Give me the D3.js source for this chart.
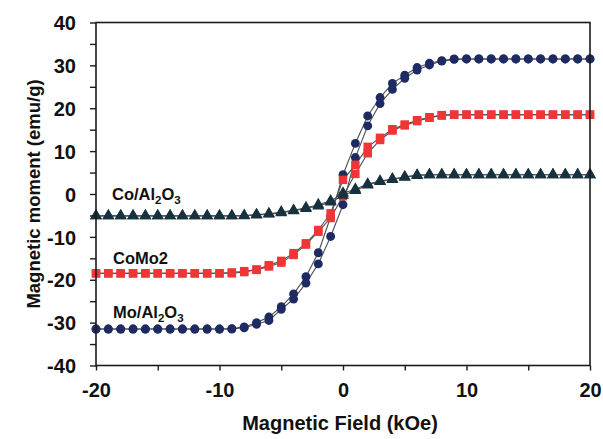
<!DOCTYPE html>
<html>
<head>
<meta charset="utf-8">
<script src="https://cdn.jsdelivr.net/npm/d3@7"></script>
<style>
  html, body { margin: 0; padding: 0; background: #fff; }
  svg { display: block; font-family: "Liberation Sans", Arial, sans-serif; }
</style>
</head>
<body>
<svg id="chart" width="603" height="439"></svg>
<script>
// Field values (kOe) for the descending (+20 -> -20) and ascending (-20 -> +20) branches
const fieldDown = [20,19,18,17,16,15,14,13,12,11,10,9,8,7,6,5,4,3,2,1,0,-1,-2,-3,-4,-5,-6,-7,-8,-9,-10,-11,-12,-13,-14,-15,-16,-17,-18,-19,-20];
const fieldUp   = [-20,-19,-18,-17,-16,-15,-14,-13,-12,-11,-10,-9,-8,-7,-6,-5,-4,-3,-2,-1,0,1,2,3,4,5,6,7,8,9,10,11,12,13,14,15,16,17,18,19,20];

// Mo/Al2O3 (emu/g)
const moDown = [31.5,31.5,31.5,31.5,31.5,31.5,31.5,31.5,31.5,31.5,31.5,31.5,31.1,30.5,29.5,27.7,25.8,22.5,18.2,11.8,4.5,-5.3,-13.7,-19.3,-23.3,-26.3,-28.7,-30.0,-31.0,-31.4,-31.5,-31.5,-31.5,-31.5,-31.5,-31.5,-31.5,-31.5,-31.5,-31.5,-31.5];
const moUp   = [-31.5,-31.5,-31.5,-31.5,-31.5,-31.5,-31.5,-31.5,-31.5,-31.5,-31.5,-31.5,-31.2,-30.4,-29.5,-26.9,-24.5,-20.8,-16.3,-9.9,-2.5,8.5,15.9,21.1,24.4,27.0,28.9,30.1,31.0,31.4,31.5,31.5,31.5,31.5,31.5,31.5,31.5,31.5,31.5,31.5,31.5];

// CoMo2 (emu/g)
const comoDown = [18.5,18.5,18.5,18.5,18.5,18.5,18.5,18.5,18.5,18.5,18.5,18.5,18.4,17.9,17.2,16.2,15.1,13.1,11.0,6.8,3.3,-4.5,-8.4,-11.5,-13.8,-15.6,-16.6,-17.6,-18.0,-18.3,-18.5,-18.5,-18.5,-18.5,-18.5,-18.5,-18.5,-18.5,-18.5,-18.5,-18.5];
const comoUp   = [-18.5,-18.5,-18.5,-18.5,-18.5,-18.5,-18.5,-18.5,-18.5,-18.5,-18.5,-18.5,-18.2,-17.7,-16.9,-16.0,-14.2,-11.8,-8.8,-5.6,-0.5,4.7,9.5,12.6,14.8,16.0,17.0,17.8,18.3,18.5,18.5,18.5,18.5,18.5,18.5,18.5,18.5,18.5,18.5,18.5,18.5];

// Co/Al2O3 (emu/g)
const coDown = [4.5,4.5,4.5,4.5,4.5,4.5,4.5,4.5,4.5,4.5,4.5,4.5,4.5,4.5,4.4,4.0,3.5,3.0,2.3,1.1,0.2,-1.6,-2.5,-3.2,-3.8,-4.2,-4.6,-4.8,-5.0,-5.1,-5.1,-5.1,-5.1,-5.1,-5.1,-5.1,-5.1,-5.1,-5.1,-5.1,-5.1];
const coUp   = [-5.1,-5.1,-5.1,-5.1,-5.1,-5.1,-5.1,-5.1,-5.1,-5.1,-5.1,-5.1,-5.1,-4.9,-4.7,-4.4,-3.9,-3.4,-2.8,-1.9,-0.3,0.8,2.1,2.9,3.4,3.9,4.3,4.5,4.5,4.5,4.5,4.5,4.5,4.5,4.5,4.5,4.5,4.5,4.5,4.5,4.5];

const xTicks = [-20,-10,0,10,20];
const yTicks = [-40,-30,-20,-10,0,10,20,30,40];
const xTitle = "Magnetic Field (kOe)";
const yTitle = "Magnetic moment (emu/g)";

const svg = d3.select("#chart");
const L = 96, R = 590, T = 22.5, B = 365.5;
const x = d3.scaleLinear().domain([-20, 20]).range([L, R]);
const y = d3.scaleLinear().domain([-40, 40]).range([B, T]);

const axisColor = "#1b1b1b";

// Series definitions
const series = [
  { name: "Mo", down: moDown, up: moUp, color: "#1e2b63", symbol: d3.symbolCircle, size: 62 },
  { name: "CoMo2", down: comoDown, up: comoUp, color: "#ef3535", symbol: d3.symbolSquare, size: 72 },
  { name: "Co", down: coDown, up: coUp, color: "#17323f", symbol: d3.symbolTriangle, size: 62 }
];

const line = d3.line().x(d => x(d[0])).y(d => y(d[1]));

// lines first
series.forEach(s => {
  const dn = fieldDown.map((f, i) => [f, s.down[i]]);
  const upd = fieldUp.map((f, i) => [f, s.up[i]]);
  [dn, upd].forEach(pts => {
    svg.append("path").attr("d", line(pts)).attr("fill", "none")
      .attr("stroke", "#4a4f52").attr("stroke-width", 1.1);
  });
});

// markers
series.forEach(s => {
  const dn = fieldDown.map((f, i) => [f, s.down[i]]);
  const upd = fieldUp.map((f, i) => [f, s.up[i]]);
  const sym = d3.symbol().type(s.symbol).size(s.size);
  [dn, upd].forEach(pts => {
    svg.append("g").selectAll("path").data(pts).join("path")
      .attr("d", sym)
      .attr("transform", d => `translate(${x(d[0])},${y(d[1])})`)
      .attr("fill", s.color);
  });
});

// box
svg.append("rect").attr("x", L).attr("y", T).attr("width", R - L).attr("height", B - T)
  .attr("fill", "none").attr("stroke", axisColor).attr("stroke-width", 1.6);

// Y axis
const yAxis = d3.axisLeft(y).tickValues(d3.range(-40, 41, 5)).tickSize(6)
  .tickFormat(d => yTicks.includes(d) ? d : "");
const gy = svg.append("g").attr("transform", `translate(${L},0)`).call(yAxis);
gy.select(".domain").remove();
gy.selectAll("line").attr("stroke", axisColor).attr("stroke-width", 1.4);
gy.selectAll("text").attr("font-size", 20).attr("font-weight", "bold").attr("fill", "#111")
  .attr("x", -20).attr("dy", "0.36em");

// X axis
const xAxis = d3.axisBottom(x).tickValues(d3.range(-20, 21, 5)).tickSize(5)
  .tickFormat(d => xTicks.includes(d) ? d : "");
const gx = svg.append("g").attr("transform", `translate(0,${B})`).call(xAxis);
gx.select(".domain").remove();
gx.selectAll("line").attr("stroke", axisColor).attr("stroke-width", 1.4);
gx.selectAll("text").attr("font-size", 20).attr("font-weight", "bold").attr("fill", "#111")
  .attr("y", 17).attr("dy", "0.71em");

// Titles
svg.append("text").attr("x", (L + R) / 2 - 3).attr("y", 430).attr("text-anchor", "middle")
  .attr("font-size", 20).attr("font-weight", "bold").attr("fill", "#111").text(xTitle);
svg.append("text").attr("transform", `translate(40,${(T + B) / 2}) rotate(-90)`)
  .attr("text-anchor", "middle").attr("font-size", 18.5).attr("font-weight", "bold")
  .attr("fill", "#111").text(yTitle);

// Series labels
function label(parts, lx, ly) {
  const t = svg.append("text").attr("x", lx).attr("y", ly).attr("font-size", 16.5)
    .attr("font-weight", "bold").attr("fill", "#111");
  parts.forEach(p => {
    const ts = t.append("tspan").text(p[0]);
    if (p[1] === "sub") ts.attr("font-size", 11.5).attr("dy", 4);
    else if (p[1] === "back") ts.attr("dy", -4);
  });
}
label([["Co/Al"], ["2", "sub"], ["O", "back"], ["3", "sub"]], 112, 200);
label([["CoMo2"]], 113, 264);
label([["Mo/Al"], ["2", "sub"], ["O", "back"], ["3", "sub"]], 113, 318);
</script>
</body>
</html>
